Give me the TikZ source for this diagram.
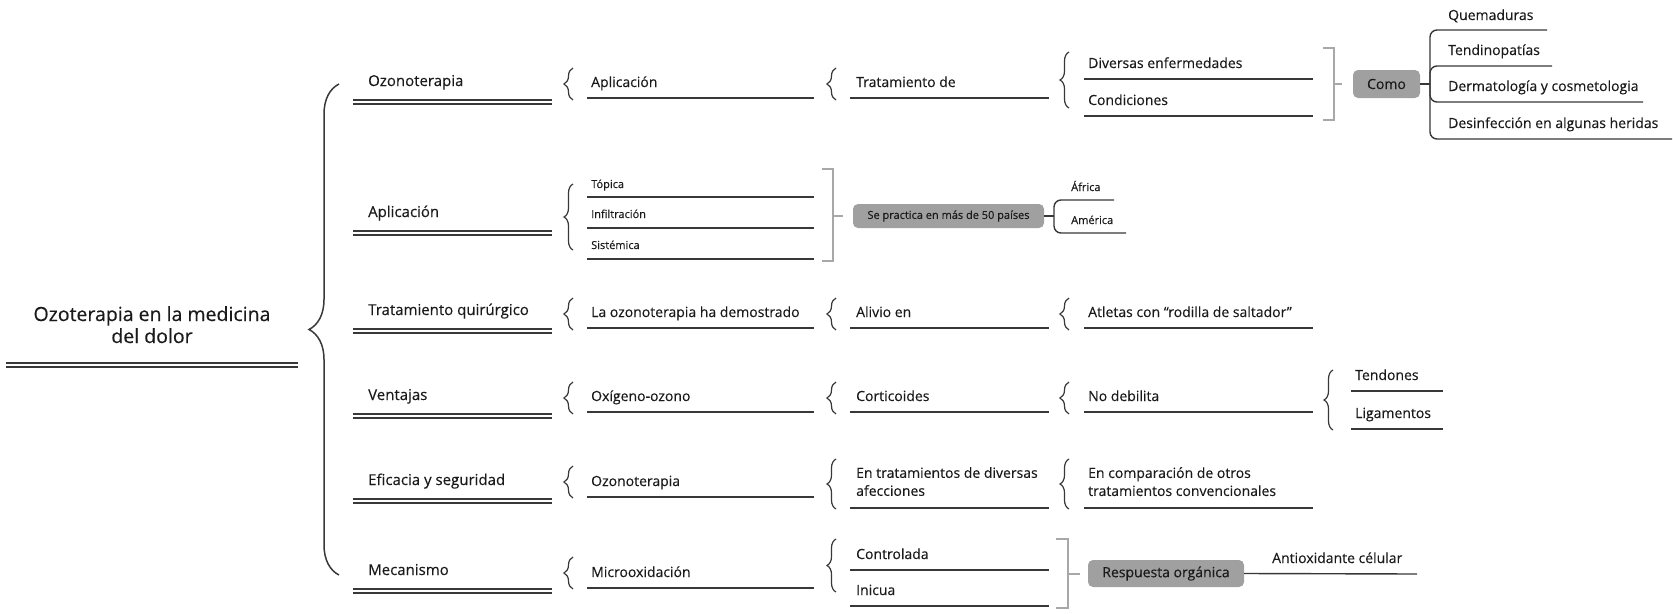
\documentclass[tikz,border=0pt]{standalone}
\usepackage{fontspec}
\setmainfont{Open Sans}[FakeBold=0.3]
\usetikzlibrary{decorations.pathreplacing}
\definecolor{ink}{HTML}{1A1A1A}
\definecolor{lnc}{HTML}{383838}
\definecolor{brk}{HTML}{A8A8A8}
\definecolor{boxf}{HTML}{A0A0A0}
\tikzset{
  txt/.style={inner sep=0pt, anchor=base west, text=ink, font=\fontsize{14}{17}\selectfont},
  lonetxt/.style={txt, font=\fontsize{15}{18}\selectfont},
  smalltxt/.style={txt, font=\fontsize{11}{13}\selectfont},
  twoline/.style={inner sep=0pt, anchor=north west, text=ink, align=left, font=\fontsize{14}{18}\selectfont},
  ln/.style={draw=lnc, line width=1.4pt},
  dln/.style={draw=lnc, line width=1.1pt},
  brc/.style={draw=lnc, line width=1.2pt, decorate, decoration={brace, amplitude=9pt}},
  bigbrc/.style={draw=lnc, line width=1.5pt, decorate, decoration={brace, amplitude=30pt}},
  bracket/.style={draw=brk, line width=1.4pt},
  gbox/.style={fill=boxf, rounded corners=5pt, text=ink, inner sep=0pt, anchor=center},
  branch/.style={draw=lnc, line width=1.4pt, rounded corners=7pt}
}
% #1 style, #2 name, #3 x text, #4 baseline, #5 x0, #6 x1, #7 y line, #8 text
\newcommand{\ulitem}[8][txt]{%
  \node[#1] (#2) at (#3,-#4) {#8};
  \coordinate (#2-a) at (#5,-#7);
  \coordinate (#2-b) at (#6,-#7);
  \draw[ln] (#2-a) -- (#2-b);}
% #1 name, #2 baseline, #3 y line, #4 text
\newcommand{\dblitem}[4]{%
  \node[lonetxt] (#1) at (368,-#2) {#4};
  \coordinate (#1-a) at (353,-#3);
  \coordinate (#1-b) at (552,-#3);
  \draw[dln] (#1-a) -- (#1-b);
  \draw[dln] ([yshift=-4pt]#1-a) -- ([yshift=-4pt]#1-b);}
% #1 x, #2 top, #3 bottom
\newcommand{\sbrace}[3]{\draw[brc] (#1,-#3) -- (#1,-#2);}

\begin{document}
\begin{tikzpicture}[x=1pt, y=1pt]
\useasboundingbox (0,0) rectangle (1673,-613);

% root
\node[inner sep=0pt, anchor=north, align=center, text=ink, font=\fontsize{19.5}{22}\selectfont] (root) at (152,-306) {Ozoterapia en la medicina\\del dolor};
\coordinate (root-a) at (6,-363);
\coordinate (root-b) at (298,-363);
\draw[dln] (root-a) -- (root-b);
\draw[dln] ([yshift=-4pt]root-a) -- ([yshift=-4pt]root-b);

% big brace
\coordinate (bb-bot) at (339,-575);
\coordinate (bb-top) at (339,-84);
\draw[bigbrc] (bb-bot) -- (bb-top);

% level 1
\dblitem{ozo}{86}{100}{Ozonoterapia}
\dblitem{apl}{217}{231}{Aplicación}
\dblitem{tq}{315}{329}{Tratamiento quirúrgico}
\dblitem{ven}{400}{414}{Ventajas}
\dblitem{efi}{485}{499}{Eficacia y seguridad}
\dblitem{mec}{575}{589}{Mecanismo}

% ---------- row 1
\sbrace{573}{68}{100}
\ulitem{r1b}{591}{87}{587}{814}{98}{Aplicación}
\sbrace{836}{68}{100}
\ulitem{r1c}{856}{87}{850}{1049}{98}{Tratamiento de}
\sbrace{1069}{52}{108}
\ulitem{r1d1}{1088}{68}{1084}{1313}{79}{Diversas enfermedades}
\ulitem{r1d2}{1088}{105}{1084}{1313}{116}{Condiciones}
\draw[bracket] (1323,-48) -- (1334,-48) -- (1334,-120) -- (1323,-120);
\coordinate (br1) at (1334,-84);
\coordinate (br1t) at (1342,-84);
\draw[bracket] (br1) -- (br1t);
\node[gbox, minimum width=67pt, minimum height=28pt, font=\fontsize{14}{17}\selectfont] (como) at (1386.5,-84) {Como};
\coordinate (jc) at (1430,-84);
\draw[ln] (como.east) -- (jc);
\node[txt] (q1) at (1448,-20) {Quemaduras};
\node[txt] (q2) at (1448,-55) {Tendinopatías};
\node[txt] (q3) at (1448,-91) {Dermatología y cosmetologia};
\node[txt] (q4) at (1448,-128) {Desinfección en algunas heridas};
\coordinate (q1-b) at (1547,-30);
\coordinate (q2-b) at (1552,-66);
\coordinate (q3-b) at (1643,-102);
\coordinate (q4-b) at (1672,-139);
\draw[branch] (jc) |- (q1-b);
\draw[branch] (jc) |- (q2-b);
\draw[branch] (jc) |- (q3-b);
\draw[branch] (jc) |- (q4-b);

% ---------- row 2
\sbrace{573}{184}{250}
\ulitem[smalltxt]{top}{591}{188}{587}{814}{197}{Tópica}
\ulitem[smalltxt]{inf}{591}{218}{587}{814}{228}{Infiltración}
\ulitem[smalltxt]{sis}{591}{249}{587}{814}{259}{Sistémica}
\draw[bracket] (822,-169) -- (833,-169) -- (833,-261) -- (822,-261);
\coordinate (br2) at (833,-216);
\coordinate (br2t) at (843,-216);
\draw[bracket] (br2) -- (br2t);
\node[gbox, minimum width=191pt, minimum height=24pt, font=\fontsize{11}{13}\selectfont] (pais) at (948.5,-216) {Se practica en más de 50 países};
\coordinate (jp) at (1054,-216);
\draw[ln] (pais.east) -- (jp);
\node[smalltxt] (afr) at (1071,-191) {África};
\node[smalltxt] (ame) at (1071,-224) {América};
\coordinate (afr-b) at (1114,-200);
\coordinate (ame-b) at (1126,-233);
\draw[branch] (jp) |- (afr-b);
\draw[branch] (jp) |- (ame-b);

% ---------- row 3
\sbrace{573}{298}{330}
\ulitem{r3b}{591}{317}{587}{814}{328}{La ozonoterapia ha demostrado}
\sbrace{836}{298}{330}
\ulitem{r3c}{856}{317}{850}{1049}{328}{Alivio en}
\sbrace{1069}{298}{330}
\ulitem{r3d}{1088}{317}{1084}{1313}{328}{Atletas con “rodilla de saltador”}

% ---------- row 4
\sbrace{573}{382}{414}
\ulitem{r4b}{591}{401}{587}{814}{412}{Oxígeno-ozono}
\sbrace{836}{382}{414}
\ulitem{r4c}{856}{401}{850}{1049}{412}{Corticoides}
\sbrace{1069}{382}{414}
\ulitem{r4d}{1088}{401}{1084}{1313}{412}{No debilita}
\sbrace{1333}{370}{430}
\ulitem{ten}{1355}{380}{1351}{1443}{391}{Tendones}
\ulitem{lig}{1355}{418}{1351}{1443}{429}{Ligamentos}

% ---------- row 5
\sbrace{573}{466}{498}
\ulitem{r5b}{591}{486}{587}{814}{497}{Ozonoterapia}
\sbrace{836}{459}{509}
\node[twoline] (r5c) at (856,-467) {En tratamientos de diversas\\afecciones};
\coordinate (r5c-a) at (850,-508);
\coordinate (r5c-b) at (1049,-508);
\draw[ln] (r5c-a) -- (r5c-b);
\sbrace{1069}{459}{509}
\node[twoline] (r5d) at (1088,-467) {En comparación de otros\\tratamientos convencionales};
\coordinate (r5d-a) at (1084,-508);
\coordinate (r5d-b) at (1313,-508);
\draw[ln] (r5d-a) -- (r5d-b);

% ---------- row 6
\sbrace{573}{557}{589}
\ulitem{r6b}{591}{577}{587}{814}{588}{Microoxidación}
\sbrace{836}{539}{592}
\ulitem{ctl}{856}{559}{850}{1049}{570}{Controlada}
\ulitem{ini}{856}{595}{850}{1049}{606}{Inicua}
\draw[bracket] (1056,-539) -- (1068,-539) -- (1068,-608) -- (1056,-608);
\coordinate (br6) at (1068,-574);
\coordinate (br6t) at (1080,-574);
\draw[bracket] (br6) -- (br6t);
\node[gbox, minimum width=156pt, minimum height=27pt, font=\fontsize{14}{17}\selectfont] (resp) at (1166,-573.5) {Respuesta orgánica};
\node[txt] (anti) at (1272,-563) {Antioxidante célular};
\coordinate (anti-b) at (1417,-574);
\draw[ln] (resp.east) -- (anti-b);
\end{tikzpicture}
\end{document}
